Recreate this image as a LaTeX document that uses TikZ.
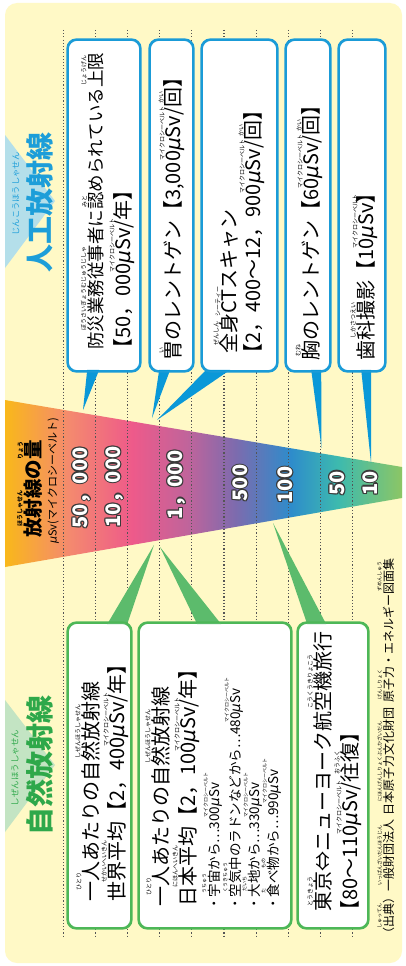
\documentclass[tikz,border=0pt]{standalone}
\usepackage{fontspec}
\setmainfont{Noto Sans CJK JP}
\newfontfamily\dvs{DejaVu Sans}
\usetikzlibrary{calc}
\definecolor{bgy}{HTML}{FFF9C6}
\definecolor{bl}{HTML}{1A9BD7}
\definecolor{blp}{HTML}{0A98D8}
\definecolor{blh}{HTML}{1D9ED9}
\definecolor{gr}{HTML}{4DB757}
\definecolor{grp}{HTML}{5CBB6C}
\definecolor{grh}{HTML}{2EA84A}
\definecolor{lbl}{HTML}{B4DFEA}
\definecolor{lgr}{HTML}{C3E4C3}
\definecolor{dotc}{HTML}{555555}
\definecolor{olc}{HTML}{3A3A3A}
\definecolor{s1}{HTML}{F9B81A}
\definecolor{s2}{HTML}{F48A6E}
\definecolor{s3}{HTML}{EE5A8A}
\definecolor{s4}{HTML}{C0649B}
\definecolor{s5}{HTML}{7D6BAE}
\definecolor{s6}{HTML}{2E8CCB}
\definecolor{s7}{HTML}{3DBAAE}
\definecolor{s8}{HTML}{8CC665}
\pgfdeclarehorizontalshading{spec}{100bp}{color(0bp)=(s1); color(25bp)=(s1); color(33bp)=(s2); color(41bp)=(s3); color(48bp)=(s4); color(54bp)=(s5); color(61bp)=(s6); color(67bp)=(s7); color(75bp)=(s8); color(100bp)=(s8)}
\newcommand\rbs{6}
\newcommand\rbk{1pt}
\newcommand\rb[2]{\leavevmode\setbox0\hbox{#1}\vbox{\offinterlineskip\hbox to\wd0{\hss\fontsize{\rbs}{\rbs}\selectfont #2\hss}\kern\rbk\box0}}
\newcommand\uS{{\dvs\itshape μ}Sv}
\newcommand\olc[3]{\rlap{\kern#1\raise#2\hbox{\color{olc}#3}}}
\newcommand\outl[1]{\hbox{\olc{1.2pt}{0pt}{#1}\olc{-1.2pt}{0pt}{#1}\olc{0pt}{1.2pt}{#1}\olc{0pt}{-1.2pt}{#1}\olc{.85pt}{.85pt}{#1}\olc{-.85pt}{.85pt}{#1}\olc{.85pt}{-.85pt}{#1}\olc{-.85pt}{-.85pt}{#1}{\color{white}#1}}}
\begin{document}
\begin{tikzpicture}[x=1pt,y=-1pt,
 tx/.style={rotate=90,anchor=base west,inner sep=0pt},
 tc/.style={rotate=90,anchor=base,inner sep=0pt},
 bbox/.style={draw=bl,line width=1.6pt,fill=white,rounded corners=9pt,inner sep=0pt,minimum height=331pt},
 gbox/.style={draw=gr,line width=1.6pt,fill=white,rounded corners=9pt,inner sep=0pt,minimum height=305pt},
 dl/.style={dotc,line width=1.1pt,dash pattern=on 1.1pt off 2.1pt},
 fa/.style={font=\fontsize{20}{22}\selectfont},
 fb/.style={font=\fontsize{17.5}{19}\selectfont},
 fc/.style={font=\fontsize{13.5}{15}\selectfont},
 num/.style={tc,font=\fontsize{20}{22}\selectfont\bfseries}]
\useasboundingbox (0,0) rectangle (406,966);
\fill[white] (0,0) rectangle (406,966);
\fill[bgy,rounded corners=12pt] (5,3) rectangle (402,963);
% heading chevrons
\fill[lbl] (5,135) -- (55,201) -- (5,268) -- cycle;
\fill[lgr] (5,700) -- (55,765) -- (5,832) -- cycle;
% spectrum
\shade[shading=spec] (5,400) -- (402,467) -- (402,498) -- (5,567) -- cycle;
% dotted guides
\foreach \i in {0,...,9} \draw[dl] ({63.5+32.1*\i},30) -- ({63.5+32.1*\i},936);
% boxes
\node[bbox,minimum width=72pt] (b1) at (104,205.5) {};
\node[bbox,minimum width=43pt] (b2) at (171.5,205.5) {};
\node[bbox,minimum width=75pt] (b3) at (239.5,205.5) {};
\node[bbox,minimum width=44pt] (b4) at (308,205.5) {};
\node[bbox,minimum width=46pt] (b5) at (362,205.5) {};
\node[gbox,minimum width=63pt] (ga) at (99.5,775.5) {};
\node[gbox,minimum width=152pt] (gb) at (215,775.5) {};
\node[gbox,minimum width=70pt] (gc) at (333,775.5) {};
% pointer tips
\coordinate (k1) at (83,410);
\coordinate (k2) at (152,418);
\coordinate (k3) at (157,420);
\coordinate (k4) at (321.5,448);
\coordinate (k5) at (371,463);
\coordinate (ka) at (154,545);
\coordinate (kb) at (160,547);
\coordinate (kc) at (273,523);
\fill[blp] ($(b1.south west)+(20,-2)$) -- ($(b1.south west)+(32,-2)$) -- (k1) -- cycle;
\fill[blp] ($(b2.south west)+(10,-2)$) -- ($(b2.south west)+(21,-2)$) -- (k2) -- cycle;
\fill[blp] ($(b3.south west)+(5,-2)$) -- ($(b3.south west)+(29,-2)$) -- (k3) -- cycle;
\fill[blp] ($(b4.south west)+(26,-2)$) -- ($(b4.south west)+(36,-2)$) -- (k4) -- cycle;
\fill[blp] ($(b5.south west)+(23,-2)$) -- ($(b5.south west)+(33,-2)$) -- (k5) -- cycle;
\fill[grp] ($(ga.north west)+(40,2)$) -- ($(ga.north west)+(60,2)$) -- (ka) -- cycle;
\fill[grp] ($(gb.north west)+(59,2)$) -- ($(gb.north west)+(83,2)$) -- (kb) -- cycle;
\fill[grp] ($(gc.north west)+(10,2)$) -- ($(gc.north west)+(29,2)$) -- (kc) -- cycle;
% redraw box outlines over pointer bases
\foreach \b in {b1,b2,b3,b4,b5} \draw[bl,line width=1.6pt,rounded corners=9pt] (\b.south west) rectangle (\b.north east);
\foreach \b in {ga,gb,gc} \draw[gr,line width=1.6pt,rounded corners=9pt] (\b.south west) rectangle (\b.north east);
% headings
\node[tc,font=\fontsize{28}{30}\selectfont\bfseries,text=blh] (h1) at (50.5,202) {人工放射線};
\node[rotate=90,inner sep=0pt,font=\fontsize{8.3}{9}\selectfont,text=blh] (h1r) at (16,194) {じんこうほうしゃせん};
\node[tc,font=\fontsize{28}{30}\selectfont\bfseries,text=grh] (h2) at (50.5,765) {自然放射線};
\node[rotate=90,inner sep=0pt,font=\fontsize{8.5}{9}\selectfont,text=grh] (h2r) at (15,768) {しぜんほうしゃせん};
% spectrum labels
\node[tc,font=\fontsize{19.5}{20}\selectfont\bfseries] (st) at (40.3,489) {\rb{放射線}{ほうしゃせん}の\rb{量}{りょう}};
\node[tc,font=\fontsize{11}{12}\selectfont] (su) at (56.5,481) {\uS(マイクロシーベルト)};
\node[num] (n1) at (87.3,488) {\outl{50，000}};
\node[num] (n2) at (120.3,487) {\outl{10，000}};
\node[num] (n3) at (182.3,485) {\outl{1，000}};
\node[num] (n4) at (247.3,483) {\outl{500}};
\node[num] (n5) at (292.3,485) {\outl{100}};
\node[num] (n6) at (344.3,483) {\outl{50}};
\node[num] (n7) at (377.3,483) {\outl{10}};
% top box texts
\node[tx,fb] (t1a) at (102.1,350) {\rb{防災業務従事者}{ぼうさいぎょうむじゅうじしゃ}に\rb{認}{みと}められている\rb{上限}{じょうげん}};
\node[tx,fa] (t1b) at (130.5,350) {\hspace{-.45em}【50，000\rb{\uS}{マイクロシーベルト}/年】};
\node[tx,fa] (t2) at (180.5,361) {\rb{胃}{い}のレントゲン【3,000\rb{\uS}{マイクロシーベルト}/\rb{回}{かい}】};
\node[tx,fa] (t3a) at (236.5,354) {\rb{全身}{ぜんしん}\rb{CT}{シーティー}スキャン};
\node[tx,fa] (t3b) at (260.5,355) {\hspace{-.45em}【2，400〜12，900\rb{\uS}{マイクロシーベルト}/\rb{回}{かい}】};
\node[tx,fa] (t4) at (318.5,361) {\rb{胸}{むね}のレントゲン【60\rb{\uS}{マイクロシーベルト}/\rb{回}{かい}】};
\node[tx,fa] (t5) at (373.5,361) {\rb{歯科撮影}{しかさつえい}【10\rb{\uS}{マイクロシーベルト}】};
% bottom box texts
\node[tx,fa] (ta1) at (98.5,902) {\rb{一人}{ひとり}あたりの\rb{自然放射線}{しぜんほうしゃせん}};
\node[tx,fa] (ta2) at (124.5,902) {\rb{世界平均}{せかいへいきん}【2，400\rb{\uS}{マイクロシーベルト}/年】};
\node[tx,fa] (tb1) at (168.5,907) {\rb{一人}{ひとり}あたりの\rb{自然放射線}{しぜんほうしゃせん}};
\node[tx,fa] (tb2) at (195.5,907) {\rb{日本平均}{にほんへいきん}【2，100\rb{\uS}{マイクロシーベルト}/年】};
\renewcommand\rbs{5}
\node[tx,fc] (tb3) at (219,907) {\hspace{-.3em}・\rb{宇宙}{うちゅう}から…300\rb{\uS}{マイクロシーベルト}};
\node[tx,fc] (tb4) at (240,907) {\hspace{-.3em}・\rb{空気中}{くうきちゅう}のラドンなどから…480\rb{\uS}{マイクロシーベルト}};
\node[tx,fc] (tb5) at (259,907) {\hspace{-.3em}・\rb{大地}{だいち}から…330\rb{\uS}{マイクロシーベルト}};
\node[tx,fc] (tb6) at (278,907) {\hspace{-.3em}・\rb{食}{た}べ\rb{物}{もの}から…990\rb{\uS}{マイクロシーベルト}};
\renewcommand\rbs{6}
\node[tx,fa] (tc1) at (330.5,912) {\rb{東京}{とうきょう}⇔ニューヨーク\rb{航空機旅行}{こうくうきりょこう}};
\node[tx,fa] (tc2) at (357.5,912) {\hspace{-.45em}【80〜110\rb{\uS}{マイクロシーベルト}/\rb{往復}{おうふく}】};
% footer
\renewcommand\rbs{5}
\node[tx,font=\fontsize{12}{13}\selectfont] (ft) at (393,940) {（\rb{出典}{しゅってん}）\rb{一般財団法人}{いっぱんざいだんほうじん}\hspace{.4em}\rb{日本原子力文化財団}{にほんげんしりょくぶんかざいだん}\hspace{.4em}\rb{原子力}{げんしりょく}・エネルギー\rb{図面集}{ずめんしゅう}};
\end{tikzpicture}
\end{document}
